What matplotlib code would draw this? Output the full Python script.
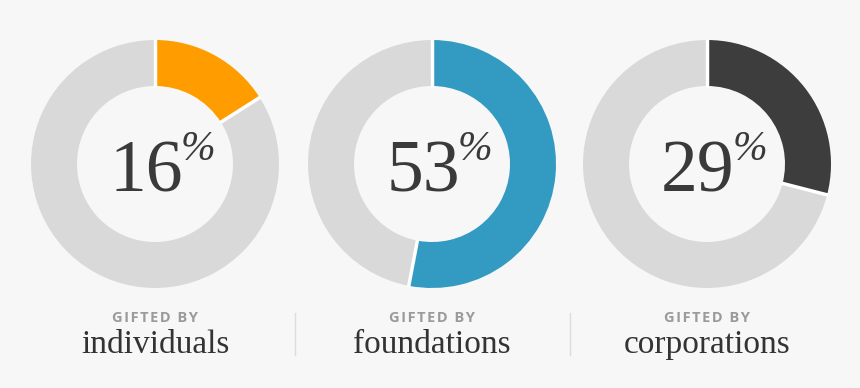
import matplotlib
matplotlib.use("Agg")
import matplotlib.pyplot as plt
import numpy as np

# chart data
values = [16, 53, 29]
labels = ["individuals", "foundations", "corporations"]
colors = ["#ff9c00", "#339bc2", "#3d3d3d"]
rest_color = "#d9d9d9"
bg = "#f7f7f7"

centers_x = [155, 432, 707]
center_y = 164
r_out = 124
ring = 46

fig = plt.figure(figsize=(8.6, 3.88), dpi=100, facecolor=bg)
ax = fig.add_axes([0, 0, 1, 1])
ax.set_facecolor(bg)

for v, name, c, cx in zip(values, labels, colors, centers_x):
    ax.pie([v, 100 - v], colors=[c, rest_color], center=(cx, center_y),
           radius=r_out, startangle=90, counterclock=False,
           wedgeprops=dict(width=ring, linewidth=0))
    # white gaps where the two slices meet
    for frac in [0, v / 100]:
        ang = np.deg2rad(90 - 360 * frac)
        rr = np.array([r_out - ring - 1, r_out + 1])
        ax.plot(cx + rr * np.cos(ang), center_y + rr * np.sin(ang),
                color="white", lw=2.5, solid_capstyle="butt")
    ax.text(cx - 9, center_y - 27, str(v), ha="center", va="baseline",
            fontsize=53, family="Liberation Serif", color="#3a3a3a")
    ax.text(cx + 43, center_y + 14, "%", ha="center", va="center",
            fontsize=30, family="Liberation Serif", style="italic", color="#3a3a3a")
    ax.text(cx, center_y - 154, "\u200a".join("GIFTED BY"), ha="center", va="center",
            fontsize=10.5, family="Open Sans", fontweight="bold", color="#9a9a9a")
    ax.text(cx, center_y - 181, name, ha="center", va="center",
            fontsize=24, family="Liberation Serif", color="#333333")

# separators between the three groups
for sx in [295, 570]:
    ax.plot([sx, sx], [center_y - 149, center_y - 191], color="#dddddd", lw=1)

ax.set_xlim(0, 860)
ax.set_ylim(center_y - 224, center_y + 164)
ax.set_aspect("equal")
ax.axis("off")

fig.savefig("out.png", dpi=100, facecolor=bg)
